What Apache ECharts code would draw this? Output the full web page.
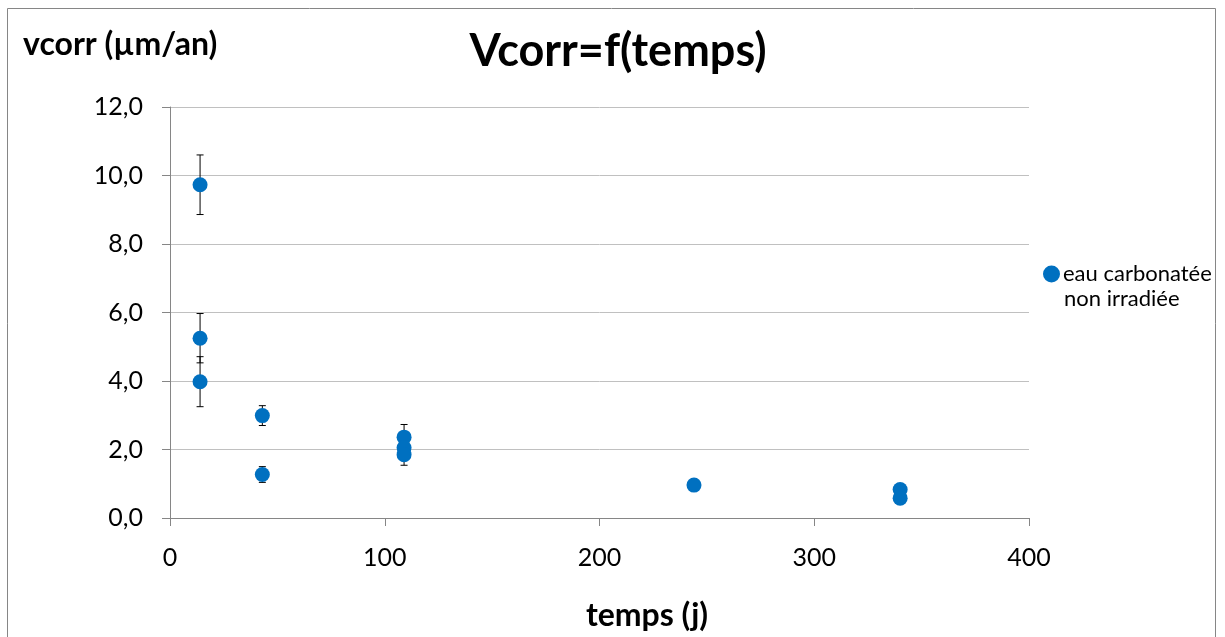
<!DOCTYPE html>
<html>
<head>
<meta charset="utf-8">
<script src="https://cdn.jsdelivr.net/npm/echarts@6/dist/echarts.min.js"></script>
<style>
html,body{margin:0;padding:0;background:#fff;}
#c{width:1225px;height:637px;}
</style>
</head>
<body>
<div id="c"></div>
<script>
// Data
var seriesName = 'eau carbonatée non irradiée';
var temps = [14, 14, 14, 43, 43, 109, 109, 109, 244, 340, 340];
var vcorr = [9.73, 5.25, 3.98, 2.99, 1.27, 2.36, 2.05, 1.85, 0.96, 0.83, 0.58];
var errUp = [0.87, 0.72, 0.73, 0.29, 0.23, 0.37, 0.20, 0.31, 0, 0, 0];
var xTicks = [0, 100, 200, 300, 400];
var yTicks = [0, 2, 4, 6, 8, 10, 12];

var FONT = 'Lato';
var chart = echarts.init(document.getElementById('c'), null, {renderer: 'canvas'});

var pts = temps.map(function (t, i) { return [t, vcorr[i]]; });
var errData = temps.map(function (t, i) { return [t, vcorr[i], errUp[i]]; });

var option = {
  backgroundColor: '#fff',
  animation: false,
  title: {
    text: 'Vcorr=f(temps)',
    left: 613, top: 24, textAlign: 'center',
    textStyle: {fontFamily: FONT, fontWeight: 'bold', fontSize: 45, color: '#000'}
  },
  graphic: [
    {type: 'rect', shape: {x: 7.5, y: 8.5, width: 1208, height: 660},
     style: {fill: 'none', stroke: '#868686', lineWidth: 1}, silent: true, z: -10},
    {type: 'text', left: 23, top: 29,
     style: {text: 'vcorr (µm/an)', fontFamily: FONT, fontWeight: 'bold', fontSize: 32, fill: '#000'}},
    {type: 'text', left: 1064, top: 288,
     style: {text: 'non irradiée', fontFamily: FONT, fontSize: 22, fill: '#000'}}
  ],
  legend: {
    left: 1038, top: 258, orient: 'vertical',
    itemWidth: 17, itemHeight: 17, itemGap: 4,
    icon: 'circle',
    formatter: function () { return 'eau carbonatée'; },
    textStyle: {fontFamily: FONT, fontSize: 22, color: '#000', padding: [0, 0, 0, -2]},
    data: [seriesName]
  },
  grid: {left: 170, right: 196, top: 107, bottom: 117, containLabel: false},
  xAxis: {
    type: 'value', min: 0, max: 400, interval: 100,
    name: 'temps (j)', nameLocation: 'middle', nameGap: 82,
    nameTextStyle: {fontFamily: FONT, fontWeight: 'bold', fontSize: 32, color: '#000', padding: [0, 0, 0, 95]},
    axisLine: {show: true, lineStyle: {color: '#868686', width: 1}},
    axisTick: {show: true, inside: false, length: 8, lineStyle: {color: '#868686'}},
    axisLabel: {fontFamily: FONT, fontSize: 25, color: '#000', margin: 27,
      formatter: function (v) { return xTicks.indexOf(v) >= 0 ? String(v) : ''; }},
    splitLine: {show: false}
  },
  yAxis: {
    type: 'value', min: 0, max: 12, interval: 2,
    axisLine: {show: true, lineStyle: {color: '#868686', width: 1}},
    axisTick: {show: true, inside: false, length: 8, lineStyle: {color: '#868686'}},
    axisLabel: {fontFamily: FONT, fontSize: 25, color: '#000', margin: 27,
      formatter: function (v) { return yTicks.indexOf(v) >= 0 ? v.toFixed(1).replace('.', ',') : ''; }},
    splitLine: {show: true, lineStyle: {color: '#c0c0c0', width: 1}}
  },
  series: [
    {
      type: 'custom',
      name: 'err',
      z: 1,
      silent: true,
      data: errData,
      renderItem: function (params, api) {
        var x = api.value(0), y = api.value(1), e = api.value(2);
        if (!e) return null;
        var top = api.coord([x, y + e]);
        var bot = api.coord([x, y - e]);
        var hw = 3.5;
        var st = {stroke: '#000', lineWidth: 1};
        return {
          type: 'group',
          children: [
            {type: 'line', shape: {x1: top[0], y1: top[1], x2: bot[0], y2: bot[1]}, style: st},
            {type: 'line', shape: {x1: top[0] - hw, y1: top[1], x2: top[0] + hw, y2: top[1]}, style: st},
            {type: 'line', shape: {x1: bot[0] - hw, y1: bot[1], x2: bot[0] + hw, y2: bot[1]}, style: st}
          ]
        };
      }
    },
    {
      type: 'scatter',
      name: seriesName,
      z: 3,
      symbol: 'circle',
      symbolSize: 15,
      itemStyle: {color: '#0070C0', opacity: 1},
      data: pts
    }
  ]
};
chart.setOption(option);
</script>
</body>
</html>
